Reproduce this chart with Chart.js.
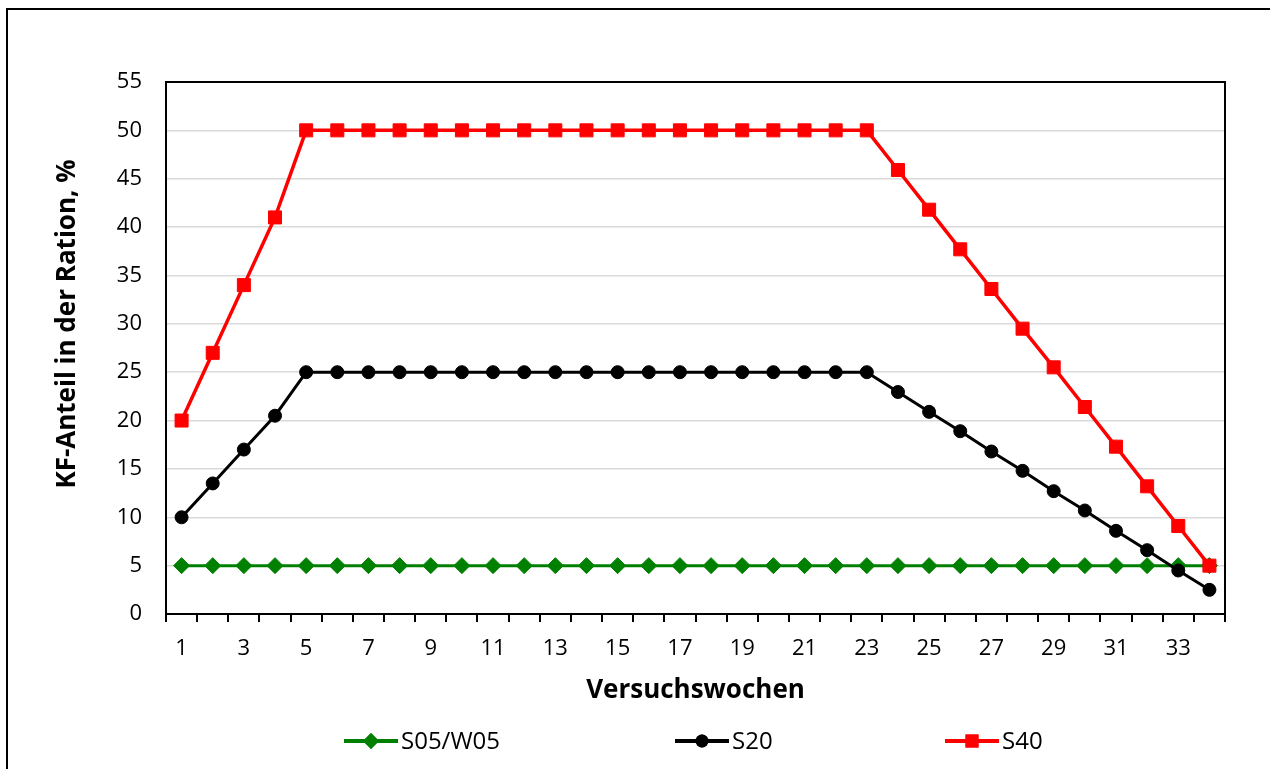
<!DOCTYPE html>
<html lang="de">
<head>
    <meta charset="UTF-8">
    <title>KF-Anteil in der Ration</title>
    <style>
        body {
            margin: 0;
            background-color: #fff;
        }

        #wrap {
            width: 1270px;
            height: 769px;
        }
    </style>
</head>
<body>
    <div id="wrap">
        <canvas id="chart" width="1270" height="769"></canvas>
    </div>

    <script src="https://cdn.jsdelivr.net/npm/chart.js"></script>
    <script>
        // Versuchswochen (x categories)
        const weeks = [1, 2, 3, 4, 5, 6, 7, 8, 9, 10, 11, 12, 13, 14, 15, 16, 17,
                       18, 19, 20, 21, 22, 23, 24, 25, 26, 27, 28, 29, 30, 31, 32, 33, 34];
        // only every second week gets a label
        const labelledWeeks = [1, 3, 5, 7, 9, 11, 13, 15, 17, 19, 21, 23, 25, 27, 29, 31, 33];
        const yTicks = [0, 5, 10, 15, 20, 25, 30, 35, 40, 45, 50, 55];

        // KF-Anteil, %
        const s05 = [5, 5, 5, 5, 5, 5, 5, 5, 5, 5, 5, 5, 5, 5, 5, 5, 5,
                     5, 5, 5, 5, 5, 5, 5, 5, 5, 5, 5, 5, 5, 5, 5, 5, 5];
        const s20 = [10, 13.5, 17, 20.5, 25, 25, 25, 25, 25, 25, 25, 25, 25, 25, 25, 25, 25,
                     25, 25, 25, 25, 25, 25, 22.95, 20.9, 18.9, 16.8, 14.8, 12.7, 10.7, 8.6, 6.6, 4.5, 2.5];
        const s40 = [20, 27, 34, 41, 50, 50, 50, 50, 50, 50, 50, 50, 50, 50, 50, 50, 50,
                     50, 50, 50, 50, 50, 50, 45.9, 41.8, 37.7, 33.6, 29.5, 25.5, 21.4, 17.3, 13.2, 9.1, 5];

        const seriesNames = ['S05/W05', 'S20', 'S40'];

        const FONT = '"Open Sans", "Noto Sans", sans-serif';

        // frame, plot border, y title and legend
        const decorations = {
            id: 'decorations',
            beforeDraw(chart) {
                const ctx = chart.ctx;
                ctx.save();
                ctx.fillStyle = '#fff';
                ctx.fillRect(0, 0, chart.width, chart.height);
                ctx.strokeStyle = '#000';
                ctx.lineWidth = 2;
                ctx.strokeRect(7, 9, chart.width + 20, chart.height + 20);
                ctx.restore();
            },
            afterDraw(chart) {
                const ctx = chart.ctx;
                const a = chart.chartArea;
                ctx.save();

                // top and right edge of the plot area
                ctx.strokeStyle = '#000';
                ctx.lineWidth = 2;
                ctx.beginPath();
                ctx.moveTo(a.left, a.top);
                ctx.lineTo(a.right, a.top);
                ctx.lineTo(a.right, a.bottom);
                ctx.stroke();

                // y axis title
                ctx.save();
                ctx.translate(68, 324);
                ctx.rotate(-Math.PI / 2);
                ctx.fillStyle = '#000';
                ctx.font = 'bold 26px ' + FONT;
                ctx.textAlign = 'center';
                ctx.textBaseline = 'middle';
                ctx.fillText('KF-Anteil in der Ration, %', 0, 0);
                ctx.restore();

                // legend: line sample with marker, then name
                const legendY = 741;
                const legendX = [344, 675, 945];
                const sampleLen = 54;
                chart.data.datasets.forEach((ds, i) => {
                    const x0 = legendX[i];
                    ctx.strokeStyle = ds.borderColor;
                    ctx.lineWidth = 4;
                    ctx.beginPath();
                    ctx.moveTo(x0, legendY);
                    ctx.lineTo(x0 + sampleLen, legendY);
                    ctx.stroke();
                    ctx.fillStyle = ds.backgroundColor;
                    Chart.helpers.drawPoint(ctx, {
                        pointStyle: ds.pointStyle,
                        radius: ds.pointRadius,
                        rotation: 0,
                        borderWidth: 0
                    }, x0 + sampleLen / 2, legendY);
                    ctx.fill();

                    ctx.fillStyle = '#000';
                    ctx.font = '24px ' + FONT;
                    ctx.textAlign = 'left';
                    ctx.textBaseline = 'middle';
                    ctx.fillText(ds.label, x0 + sampleLen + 3, legendY + 1);
                });

                ctx.restore();
            }
        };

        new Chart(document.getElementById('chart').getContext('2d'), {
            type: 'line',
            data: {
                labels: weeks,
                datasets: [{
                    label: seriesNames[0],
                    data: s05,
                    borderColor: '#008000',
                    backgroundColor: '#008000',
                    borderWidth: 3,
                    pointStyle: 'rectRot',
                    pointRadius: 8,
                    pointBorderWidth: 1,
                    order: 2
                }, {
                    label: seriesNames[1],
                    data: s20,
                    borderColor: '#000000',
                    backgroundColor: '#000000',
                    borderWidth: 3,
                    pointStyle: 'circle',
                    pointRadius: 6.5,
                    pointBorderWidth: 1,
                    order: 1
                }, {
                    label: seriesNames[2],
                    data: s40,
                    borderColor: '#ff0000',
                    backgroundColor: '#ff0000',
                    borderWidth: 3.5,
                    pointStyle: 'rect',
                    pointRadius: 9.2,
                    pointBorderWidth: 1,
                    order: 0
                }]
            },
            options: {
                responsive: false,
                animation: false,
                tension: 0,
                layout: {
                    padding: { left: 55, top: 82, right: 45, bottom: 63 }
                },
                plugins: {
                    legend: { display: false },
                    tooltip: { enabled: false }
                },
                scales: {
                    x: {
                        type: 'category',
                        offset: true,
                        afterFit(scale) { scale.height = 92; },
                        grid: {
                            offset: true,
                            drawOnChartArea: false,
                            drawTicks: true,
                            tickLength: 8,
                            color: '#000',
                            lineWidth: 2
                        },
                        border: { color: '#000', width: 2 },
                        ticks: {
                            autoSkip: false,
                            maxRotation: 0,
                            padding: 14,
                            color: '#000',
                            font: { family: FONT, size: 22 },
                            callback(value, index) {
                                const w = weeks[index];
                                return labelledWeeks.includes(w) ? String(w) : '';
                            }
                        },
                        title: {
                            display: true,
                            text: 'Versuchswochen',
                            color: '#000',
                            padding: 0,
                            font: { family: FONT, size: 26, weight: 'bold' }
                        }
                    },
                    y: {
                        min: yTicks[0],
                        max: yTicks[yTicks.length - 1],
                        afterFit(scale) { scale.width = 111; },
                        afterBuildTicks(scale) {
                            scale.ticks = yTicks.map(v => ({ value: v }));
                        },
                        grid: {
                            color: '#d9d9d9',
                            lineWidth: 1.5,
                            drawTicks: false
                        },
                        border: { color: '#000', width: 2 },
                        ticks: {
                            padding: 24,
                            color: '#000',
                            font: { family: FONT, size: 22 }
                        }
                    }
                }
            },
            plugins: [decorations]
        });
    </script>
</body>
</html>
